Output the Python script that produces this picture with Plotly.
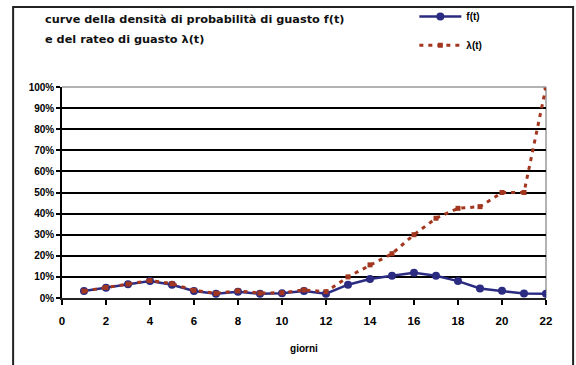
import plotly.graph_objects as go

# Giorni di osservazione
giorni = list(range(1, 23))

# Densità di probabilità di guasto f(t), in %
f_t = [3.3, 4.9, 6.5, 8.1, 6.3, 3.3, 2.0, 3.0, 2.0, 2.2, 3.3, 2.0,
       6.3, 9.0, 10.5, 12.0, 10.5, 8.0, 4.5, 3.4, 2.1, 2.0]

# Rateo di guasto lambda(t), in %
lambda_t = [3.3, 5.0, 6.6, 8.3, 6.8, 3.6, 2.2, 3.4, 2.3, 2.5, 3.8, 3.0,
            10.0, 15.7, 21.0, 30.0, 37.8, 42.5, 43.3, 50.0, 50.0, 100.0]

y_ticks = list(range(0, 101, 10))
y_labels = [f"<b>{v}%</b>" for v in y_ticks]
x_ticks = list(range(0, 23, 2))
x_labels = [f"<b>{v}</b>" for v in x_ticks]

BLUE = "#2B2B82"
RED = "#A3361F"
FONT = "Liberation Sans"
TITLE_FONT = "DejaVu Sans"

fig = go.Figure()
fig.add_trace(go.Scatter(
    x=giorni, y=f_t, name="<b>f(t)</b>", mode="lines+markers",
    line=dict(color=BLUE, width=2.5),
    marker=dict(symbol="circle", size=8, color=BLUE),
    legend="legend",
))
fig.add_trace(go.Scatter(
    x=giorni, y=lambda_t, name="<b>λ(t)</b>", mode="lines+markers",
    line=dict(color=RED, width=3, dash="4px,5px"),
    marker=dict(symbol="square", size=5, color=RED),
    legend="legend2",
))

legend_style = dict(
    xanchor="left", yanchor="top", bgcolor="rgba(0,0,0,0)",
    font=dict(size=10, family=FONT), itemwidth=42,
)

fig.update_layout(
    width=576, height=365,
    margin=dict(l=62, r=30, t=87, b=67, autoexpand=False),
    paper_bgcolor="white", plot_bgcolor="white",
    font=dict(family=FONT, color="black"),
    showlegend=True,
    legend=dict(x=0.728, y=1.403, **legend_style),
    legend2=dict(x=0.728, y=1.267, **legend_style),
    xaxis=dict(
        range=[0, 22], tickvals=x_ticks, ticktext=x_labels, ticks="outside",
        ticklen=5, tickcolor="black", tickwidth=1.5,
        showline=True, linecolor="#222", linewidth=1.5,
        showgrid=False, zeroline=False,
        tickfont=dict(size=11.5, family=FONT, color="black"),
        ticklabelstandoff=6,
        title=dict(text="<b>giorni</b>", font=dict(size=10, family=FONT), standoff=19),
    ),
    yaxis=dict(
        range=[0, 100], tickvals=y_ticks, ticktext=y_labels, ticks="outside",
        ticklen=4, tickcolor="black", tickwidth=1.5,
        showline=True, linecolor="black", linewidth=1.5,
        showgrid=True, gridcolor="black", gridwidth=1.5, zeroline=False,
        tickfont=dict(size=10, family=FONT, color="black"),
    ),
    annotations=[
        dict(xref="paper", yref="paper", x=-0.04, y=1.318, xanchor="left",
             yanchor="middle", showarrow=False, align="left",
             text="<b>curve della densità di probabilità di guasto f(t)</b>",
             font=dict(size=11.3, family=TITLE_FONT, color="#111")),
        dict(xref="paper", yref="paper", x=-0.04, y=1.227, xanchor="left",
             yanchor="middle", showarrow=False, align="left",
             text="<b>e del rateo di guasto λ(t)</b>",
             font=dict(size=11.3, family=TITLE_FONT, color="#111")),
    ],
    shapes=[
        # grey plot frame on top and right
        dict(type="line", xref="paper", yref="paper", x0=0, x1=1, y0=1, y1=1,
             line=dict(color="#999", width=1.5), layer="above"),
        dict(type="line", xref="paper", yref="paper", x0=1, x1=1, y0=0, y1=1,
             line=dict(color="#999", width=1.5), layer="below"),
        # outer chart border (open at the bottom)
        dict(type="path", xref="paper", yref="paper",
             path="M -0.101,-0.35 L -0.101,1.379 L 1.056,1.379 L 1.056,-0.35",
             line=dict(color="#222", width=2), layer="above"),
    ],
)

fig.write_html("out.html")
